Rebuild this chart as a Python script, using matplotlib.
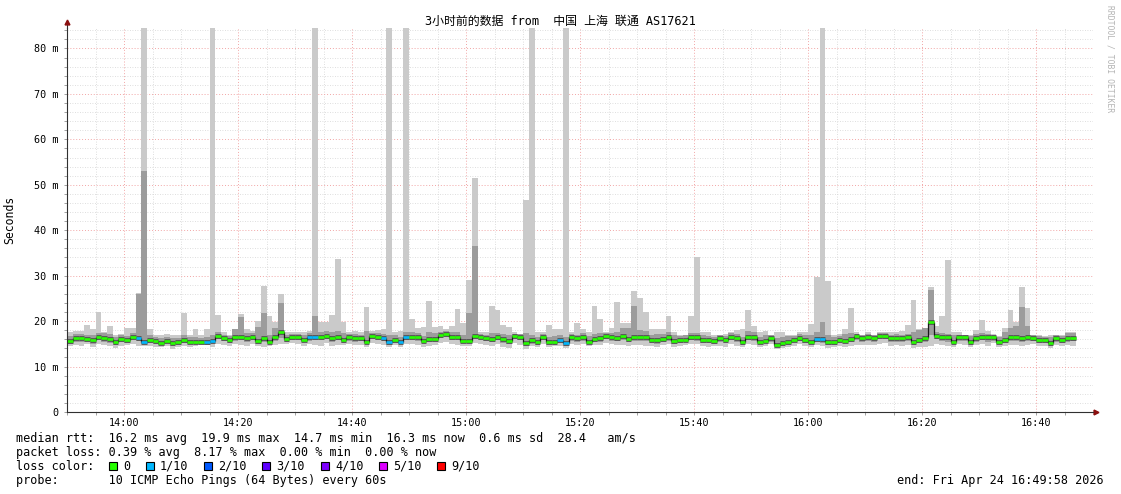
"""SmokePing style latency chart: 3 hours, China Shanghai Unicom AS17621."""

import datetime as dt

import matplotlib
matplotlib.use("Agg")
import matplotlib.dates as mdates
import matplotlib.pyplot as plt
import numpy as np
from matplotlib.patches import Rectangle
from matplotlib.ticker import FuncFormatter, MultipleLocator

# ---- data (ms), one sample per minute starting 13:50 ----
START = dt.datetime(2026, 4, 24, 13, 50)
VIEW_START = dt.datetime(2026, 4, 24, 13, 49, 58)
VIEW_END = dt.datetime(2026, 4, 24, 16, 49, 58)

median = [
    15.6, 16.2, 16.3, 16.0, 15.9, 16.5, 16.2, 16.1, 15.4, 16.1,
    15.8, 16.6, 16.3, 15.4, 15.8, 15.7, 15.2, 15.7, 15.2, 15.3,
    15.9, 15.5, 15.5, 15.4, 15.4, 15.7, 16.7, 16.3, 15.8, 16.5,
    16.6, 16.3, 16.5, 15.7, 16.3, 15.5, 16.5, 17.5, 16.0, 16.5,
    16.5, 15.9, 16.5, 16.5, 16.6, 16.8, 16.3, 16.6, 15.9, 16.5,
    16.2, 16.2, 15.5, 16.8, 16.5, 16.3, 15.3, 15.8, 15.4, 16.6,
    16.6, 16.5, 15.7, 16.1, 16.1, 16.9, 17.1, 16.5, 16.4, 15.7,
    15.7, 16.8, 16.6, 16.3, 16.1, 16.6, 16.0, 15.7, 16.7, 16.5,
    15.2, 15.8, 15.5, 16.6, 15.3, 15.4, 15.8, 15.1, 16.5, 16.3,
    16.5, 15.4, 16.1, 16.3, 16.8, 16.5, 16.3, 16.7, 16.1, 16.6,
    16.6, 16.6, 15.8, 15.8, 16.1, 16.4, 15.7, 15.9, 15.9, 16.6,
    16.5, 15.8, 15.8, 15.6, 16.2, 15.8, 16.5, 16.3, 15.4, 16.6,
    16.5, 15.4, 15.7, 16.2, 14.7, 15.2, 15.4, 15.9, 16.3, 15.9,
    15.5, 16.1, 16.1, 15.4, 15.4, 15.8, 15.7, 16.0, 16.7, 16.3,
    16.4, 16.3, 16.8, 16.8, 16.3, 16.3, 16.2, 16.4, 15.5, 15.9,
    16.2, 19.9, 16.8, 16.6, 16.4, 15.4, 16.5, 16.4, 15.5, 16.3,
    16.6, 16.4, 16.5, 15.5, 15.9, 16.5, 16.5, 16.3, 16.6, 16.3,
    15.9, 15.9, 15.2, 16.3, 15.9, 16.3, 16.3,
]

# fastest ping of the 10
ping_min = [
    14.6, 14.8, 14.5, 14.9, 14.4, 14.9, 14.8, 14.5, 14.1, 14.6,
    14.7, 14.9, 14.5, 14.6, 14.6, 14.2, 14.3, 14.6, 13.9, 14.2,
    14.5, 14.4, 14.6, 14.7, 14.8, 14.3, 15.0, 14.8, 14.6, 14.9,
    14.8, 14.6, 14.9, 14.5, 14.4, 14.6, 14.7, 15.0, 15.0, 15.2,
    15.0, 14.6, 14.9, 14.7, 14.6, 15.2, 14.5, 14.8, 14.7, 15.0,
    14.7, 14.8, 14.4, 15.2, 14.9, 14.7, 14.3, 14.8, 14.4, 14.9,
    15.0, 14.8, 14.4, 14.6, 14.7, 15.1, 15.3, 14.9, 14.8, 14.5,
    14.6, 15.1, 15.0, 14.7, 14.5, 14.9, 14.4, 14.1, 15.1, 14.8,
    13.8, 14.5, 14.3, 14.9, 14.2, 14.5, 14.6, 14.0, 14.9, 14.7,
    14.9, 14.6, 14.8, 14.7, 15.2, 14.9, 14.7, 14.8, 14.6, 14.8,
    14.7, 14.6, 14.5, 14.4, 14.7, 14.9, 14.4, 14.6, 14.8, 14.9,
    15.0, 14.6, 14.4, 14.5, 14.6, 14.3, 14.9, 14.6, 14.3, 14.9,
    14.7, 14.3, 14.6, 14.9, 13.9, 14.1, 14.3, 14.6, 14.9, 14.5,
    14.3, 14.7, 14.5, 14.0, 14.2, 14.6, 14.4, 14.5, 14.8, 14.7,
    14.8, 14.7, 15.0, 15.1, 14.6, 14.8, 14.6, 14.8, 14.1, 14.4,
    14.4, 14.6, 14.9, 14.8, 14.5, 14.4, 14.9, 14.7, 14.2, 14.8,
    14.9, 14.6, 15.1, 14.4, 14.6, 14.8, 14.7, 14.6, 14.8, 14.9,
    14.6, 14.5, 14.1, 14.7, 14.5, 14.7, 14.6,
]

# lower edge of the inner smoke
ping_low = [
    15.0, 15.5, 15.3, 15.4, 15.0, 15.8, 15.4, 15.2, 14.8, 15.3,
    15.2, 15.8, 15.6, 14.9, 15.2, 15.0, 14.7, 15.1, 14.6, 14.7,
    15.2, 14.9, 15.0, 14.9, 14.8, 15.1, 16.0, 15.6, 15.1, 15.7,
    15.8, 15.5, 15.8, 15.0, 15.4, 15.0, 15.6, 16.2, 15.5, 15.8,
    15.8, 15.3, 15.7, 15.8, 15.9, 16.1, 15.4, 15.9, 15.2, 15.7,
    15.5, 15.6, 14.9, 16.0, 15.8, 15.6, 14.8, 15.2, 14.9, 15.8,
    15.9, 15.7, 15.1, 15.4, 15.5, 16.2, 16.4, 15.8, 15.8, 15.1,
    15.1, 16.0, 15.9, 15.6, 15.4, 15.9, 15.2, 15.0, 16.1, 15.8,
    14.5, 15.0, 14.8, 15.8, 14.7, 14.8, 15.1, 14.6, 15.7, 15.5,
    15.7, 15.0, 15.4, 15.5, 16.0, 15.7, 15.6, 15.8, 15.3, 15.7,
    15.6, 15.6, 15.1, 15.0, 15.4, 15.7, 15.0, 15.2, 15.3, 15.8,
    15.7, 15.1, 15.1, 14.9, 15.4, 15.1, 15.8, 15.5, 14.8, 15.8,
    15.7, 14.9, 15.1, 15.5, 14.3, 14.6, 14.8, 15.3, 15.6, 15.2,
    14.9, 15.3, 15.2, 14.7, 14.8, 15.2, 15.1, 15.3, 15.9, 15.5,
    15.6, 15.4, 16.0, 16.0, 15.5, 15.5, 15.4, 15.6, 14.8, 15.2,
    15.3, 17.0, 16.0, 15.7, 15.5, 14.9, 15.7, 15.6, 14.8, 15.5,
    15.8, 15.5, 15.7, 14.9, 15.1, 15.7, 15.6, 15.4, 15.7, 15.6,
    15.2, 15.1, 14.6, 15.5, 15.2, 15.5, 15.6,
]

# second slowest ping
ping_high = [
    16.8, 17.2, 17.2, 17.0, 16.9, 17.4, 17.3, 17.1, 16.6, 17.0,
    16.7, 17.4, 26.0, 53.0, 16.9, 16.6, 16.2, 16.6, 16.2, 16.3,
    16.9, 16.4, 16.5, 16.3, 16.5, 17.0, 17.5, 17.0, 16.8, 18.2,
    21.0, 17.4, 17.3, 18.8, 21.7, 17.0, 18.5, 24.0, 16.9, 17.2,
    17.2, 16.9, 17.4, 21.2, 17.6, 17.9, 17.6, 17.9, 17.3, 17.1,
    17.1, 17.0, 17.8, 17.4, 17.3, 17.2, 16.9, 16.9, 16.6, 17.7,
    17.6, 17.4, 16.8, 17.5, 17.3, 17.6, 17.8, 17.6, 17.5, 17.0,
    21.7, 36.5, 17.2, 17.0, 17.3, 17.4, 17.1, 17.0, 17.2, 17.1,
    17.3, 17.0, 16.5, 17.2, 16.4, 16.8, 16.9, 16.4, 17.2, 17.0,
    17.3, 16.7, 17.2, 17.4, 17.3, 17.4, 17.6, 18.5, 18.5, 23.4,
    18.0, 17.8, 17.0, 17.1, 17.2, 17.5, 17.0, 16.8, 16.9, 17.4,
    17.4, 17.0, 16.8, 16.6, 16.9, 16.8, 17.3, 17.2, 16.6, 17.8,
    17.5, 16.6, 16.9, 17.0, 16.3, 16.6, 16.7, 16.8, 17.1, 17.0,
    17.0, 17.5, 19.9, 16.9, 16.6, 16.8, 17.1, 17.3, 17.2, 17.0,
    17.1, 16.9, 17.4, 17.3, 17.0, 17.1, 17.0, 17.2, 17.6, 18.0,
    18.4, 26.8, 17.5, 17.3, 17.2, 16.9, 17.0, 17.0, 16.7, 17.1,
    17.4, 17.2, 16.9, 16.6, 17.5, 18.5, 19.0, 23.2, 19.0, 17.0,
    16.7, 16.6, 16.5, 17.0, 16.8, 17.3, 17.4,
]

# slowest ping (values above the axis are clipped, as in the original)
ping_max = [
    17.5, 17.9, 17.9, 19.2, 18.2, 22.0, 17.6, 18.9, 17.0, 17.1,
    18.4, 18.4, 26.1, 95.0, 18.2, 17.0, 17.0, 17.1, 17.0, 17.0,
    21.7, 17.0, 18.2, 17.0, 18.2, 95.0, 21.4, 17.5, 17.0, 18.2,
    21.5, 18.2, 17.9, 20.0, 27.8, 21.2, 19.7, 26.0, 17.5, 17.6,
    17.5, 17.5, 17.8, 95.0, 19.9, 19.9, 21.4, 33.7, 19.9, 17.5,
    17.9, 17.6, 23.1, 17.9, 18.1, 18.2, 95.0, 17.5, 17.9, 95.0,
    20.4, 18.4, 18.8, 24.5, 18.8, 18.9, 18.2, 19.0, 22.7, 19.5,
    29.0, 51.5, 17.5, 17.5, 23.4, 22.5, 19.2, 18.8, 17.5, 17.2,
    46.7, 95.0, 17.5, 17.5, 19.2, 18.2, 18.2, 95.0, 17.5, 19.5,
    18.2, 17.5, 23.4, 20.4, 17.6, 18.4, 24.3, 19.5, 19.5, 26.6,
    25.0, 21.9, 18.2, 18.2, 18.2, 21.2, 17.5, 17.0, 17.0, 21.1,
    34.2, 17.5, 17.5, 17.0, 17.0, 17.2, 17.5, 18.0, 18.2, 22.5,
    19.0, 17.5, 17.9, 17.0, 17.5, 17.5, 17.0, 17.0, 17.5, 17.5,
    19.3, 29.8, 95.0, 28.8, 17.0, 17.2, 18.2, 22.8, 17.5, 17.0,
    17.5, 17.0, 17.6, 17.5, 17.5, 17.5, 17.9, 19.2, 24.6, 18.3,
    18.4, 27.5, 19.0, 21.2, 33.4, 17.6, 17.5, 17.0, 17.0, 18.0,
    20.3, 17.9, 17.2, 16.7, 18.4, 22.5, 19.7, 27.4, 22.8, 17.0,
    17.0, 16.8, 17.0, 17.0, 17.0, 17.6, 17.6,
]

# minutes (index from 13:50) where 1 of 10 pings was lost
loss_1_of_10 = [12, 13, 24, 25, 42, 43, 55, 56, 58, 59, 86, 87, 131, 132]

loss_labels = ["0", "1/10", "2/10", "3/10", "4/10", "5/10", "9/10"]
loss_colors = ["#26ff00", "#00b8ff", "#0059ff", "#5e00ff", "#7e00ff", "#dd00ff", "#ff0000"]

stats_lines = [
    "median rtt:  16.2 ms avg  19.9 ms max  14.7 ms min  16.3 ms now  0.6 ms sd  28.4   am/s",
    "packet loss: 0.39 % avg  8.17 % max  0.00 % min  0.00 % now",
]
probe_line = "probe:       10 ICMP Echo Pings (64 Bytes) every 60s"
end_line = "end: Fri Apr 24 16:49:58 2026"
title = "3小时前的数据 from  中国 上海 联通 AS17621"

MONO = ["DejaVu Sans Mono", "Noto Sans CJK SC"]

# ---- figure ----
W, H = 1121, 494
fig = plt.figure(figsize=(W / 100, H / 100), dpi=100)
ax = fig.add_axes([67 / W, 82 / H, 1026 / W, 384 / H])

n = len(median)
edges = mdates.date2num([START + dt.timedelta(minutes=i) for i in range(n + 1)])


def ext(vals):
    return np.append(vals, vals[-1])


# smoke
ax.fill_between(edges, ext(ping_min), ext(ping_max), step="post",
                color="#cacaca", lw=0, zorder=1)
ax.fill_between(edges, ext(ping_low), ext(ping_high), step="post",
                color="#9c9c9c", lw=0, zorder=1.2)

# dark core around the median, thin connectors, then loss coloured median
ax.hlines(median, edges[:-1], edges[1:], colors="#505050", lw=3.4, zorder=3)
ax.vlines(edges[1:-1], median[:-1], median[1:], colors="#1a1a1a", lw=0.9, zorder=3.5)
loss = np.zeros(n, dtype=int)
loss[loss_1_of_10] = 1
seg_colors = [loss_colors[k] for k in loss]
ax.hlines(median, edges[:-1], edges[1:], colors=seg_colors, lw=1.9, zorder=4)

ax.set_xlim(mdates.date2num(VIEW_START), mdates.date2num(VIEW_END))
ax.set_ylim(0, 84.5)

ax.xaxis.set_major_locator(mdates.MinuteLocator(byminute=[0, 20, 40]))
ax.xaxis.set_minor_locator(mdates.MinuteLocator(byminute=range(0, 60, 5)))
ax.xaxis.set_major_formatter(mdates.DateFormatter("%H:%M"))
ax.yaxis.set_major_locator(MultipleLocator(10))
ax.yaxis.set_minor_locator(MultipleLocator(2))
ax.yaxis.set_major_formatter(FuncFormatter(lambda v, _: "0" if v == 0 else f"{v:.0f} m"))

# grid sits under the smoke
ax.grid(which="minor", color="#d4d4d4", ls=(0, (1, 2)), lw=0.6)
ax.grid(which="major", color="#f2a6a6", ls=(0, (1, 2)), lw=0.7)
for gl in ax.get_xgridlines() + ax.get_ygridlines():
    gl.set_zorder(0.5)
ax.set_axisbelow(True)

ax.tick_params(which="both", length=2, width=0.6, color="#909090",
               labelsize=7.3, labelfontfamily="DejaVu Sans Mono", pad=2)
ax.tick_params(axis="y", pad=4)

for side in ("top", "right"):
    ax.spines[side].set_visible(False)
for side in ("left", "bottom"):
    ax.spines[side].set_color("#303030")
    ax.spines[side].set_linewidth(0.8)
    ax.spines[side].set_zorder(5)

# axis arrows
ax.plot([0, 0], [1, 1.016], transform=ax.transAxes, clip_on=False, color="#303030", lw=0.8)
ax.plot([0], [1.016], marker="^", ms=3.5, color="#8b1010", transform=ax.transAxes, clip_on=False)
ax.plot([1.0, 1.003], [0, 0], transform=ax.transAxes, clip_on=False, color="#303030", lw=0.8)
ax.plot([1.003], [0], marker=">", ms=3.5, color="#8b1010", transform=ax.transAxes, clip_on=False)

# texts
fig.text(560 / W, 1 - 21 / H, title, ha="center", va="center", size=8.6, family=MONO)
fig.text(10 / W, 1 - 220 / H, "Seconds", rotation=90, ha="center", va="center",
         size=8.3, family=MONO)
fig.text(1110 / W, 1 - 5 / H, "RRDTOOL / TOBI OETIKER", rotation=270, ha="center",
         va="top", size=5.8, color="#b4b4b4", family=MONO)

LEG = dict(size=8.5, family=MONO, va="center")
fig.text(16 / W, 1 - 438 / H, stats_lines[0], **LEG)
fig.text(16 / W, 1 - 452 / H, stats_lines[1], **LEG)
fig.text(16 / W, 1 - 466 / H, "loss color:", **LEG)
square_x = [109, 146, 204, 262, 321, 379, 437]
for sx, lab, col in zip(square_x, loss_labels, loss_colors):
    fig.add_artist(Rectangle((sx / W, 1 - 470 / H), 8 / W, 8 / H, transform=fig.transFigure,
                             facecolor=col, edgecolor="black", lw=0.8))
    fig.text((sx + 14) / W, 1 - 466 / H, lab, **LEG)
fig.text(16 / W, 1 - 480 / H, probe_line, **LEG)
fig.text(1104 / W, 1 - 480 / H, end_line, ha="right", **LEG)

fig.savefig("out.png", dpi=100)
